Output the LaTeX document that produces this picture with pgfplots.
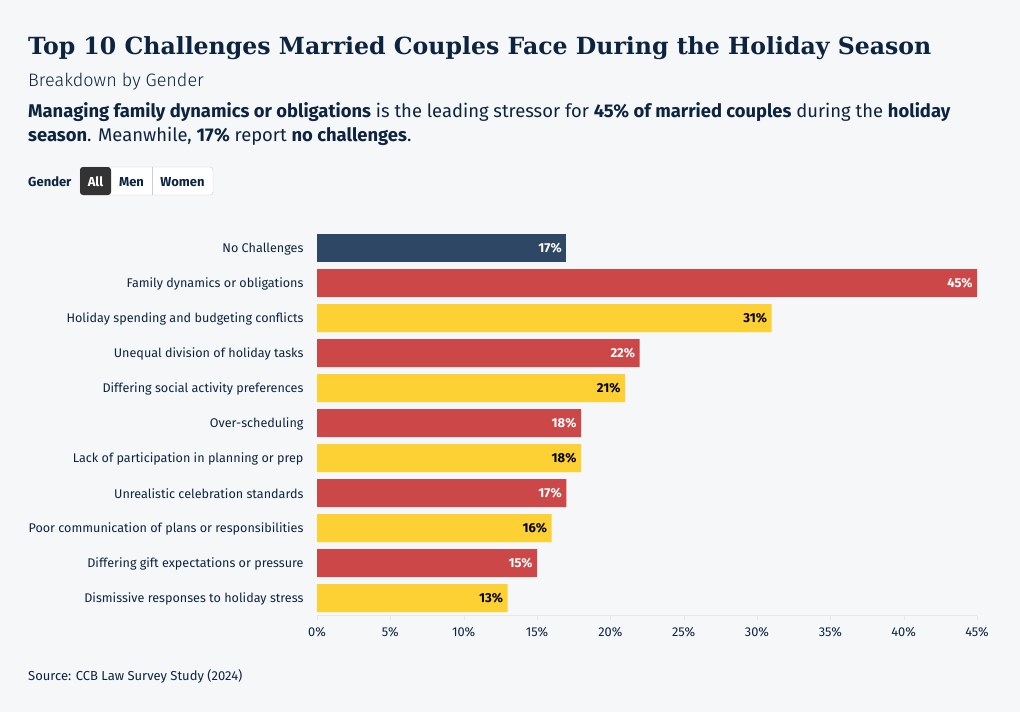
\documentclass[border=0pt]{standalone}
\usepackage{pgfplots}
\pgfplotsset{compat=1.18}
\usepackage{fontspec}
\setmainfont{Fira Sans}
\newfontfamily\titlefont{DejaVu Serif}
\definecolor{bgc}{HTML}{F5F7F9}
\definecolor{txt}{HTML}{0D2440}
\definecolor{navy}{HTML}{2E4765}
\definecolor{redc}{HTML}{CB4748}
\definecolor{yelc}{HTML}{FDD133}
\definecolor{gridc}{HTML}{E4E7EB}
\definecolor{btn}{HTML}{333333}
\definecolor{btnb}{HTML}{C9CED6}
\begin{document}
\begin{tikzpicture}[x=1pt,y=1pt]
\useasboundingbox (0,0) rectangle (1020,-712);
\fill[bgc] (0,0) rectangle (1020,-712);
\node[anchor=base west,inner sep=0,text=txt,font=\titlefont\bfseries\fontsize{23.6}{28}\selectfont] at (28,-54) {Top 10 Challenges Married Couples Face During the Holiday Season};
\node[anchor=base west,inner sep=0,text=txt,font=\fontsize{18}{20}\selectfont] at (28,-86) {\fontspec{Fira Sans Light}Breakdown by Gender};
\node[anchor=base west,inner sep=0,text=txt,font=\fontsize{18.4}{20}\selectfont] at (28,-117) {\textbf{Managing family dynamics or obligations} is the leading stressor for \textbf{45\% of married couples} during the \textbf{holiday}};
\node[anchor=base west,inner sep=0,text=txt,font=\fontsize{18.4}{20}\selectfont] at (28,-141) {\textbf{season}. Meanwhile, \textbf{17\%} report \textbf{no challenges}.};
\node[anchor=base west,inner sep=0,text=txt,font=\bfseries\fontsize{13}{15}\selectfont] at (28,-186) {Gender};
\draw[btnb,fill=white,rounded corners=3] (80,-167) rectangle (213,-195);
\fill[btn,rounded corners=3] (80,-167) rectangle (111,-195);
\draw[btnb] (152,-167) -- (152,-195);
\node[anchor=base,inner sep=0,text=white,font=\bfseries\fontsize{13}{15}\selectfont] at (95.5,-186) {All};
\node[anchor=base,inner sep=0,text=txt,font=\bfseries\fontsize{13}{15}\selectfont] at (131.5,-186) {Men};
\node[anchor=base,inner sep=0,text=txt,font=\bfseries\fontsize{13}{15}\selectfont] at (182.5,-186) {Women};
\node[anchor=base west,inner sep=0,text=txt,font=\fontsize{13}{15}\selectfont] at (28,-680) {Source: CCB Law Survey Study (2024)};
\begin{axis}[
  at={(317pt,-615.5pt)}, anchor=south west,
  scale only axis, width=660pt, height=385pt,
  xbar, bar width=28pt, bar shift=0pt,
  xmin=0, xmax=45, ymin=-0.5, ymax=10.5, y dir=reverse,
  ytick={0,...,10},
  yticklabels={No Challenges,Family dynamics or obligations,Holiday spending and budgeting conflicts,Unequal division of holiday tasks,Differing social activity preferences,Over-scheduling,Lack of participation in planning or prep,Unrealistic celebration standards,Poor communication of plans or responsibilities,Differing gift expectations or pressure,Dismissive responses to holiday stress},
  xtick={0,5,...,45},
  xticklabel={\pgfmathprintnumber{\tick}\%},
  /pgf/number format/assume math mode=true,
  axis x line*=bottom, axis y line*=left,
  x axis line style={draw=gridc,-},
  y axis line style={draw=none},
  xtick style={draw=gridc},
  ytick style={draw=none},
  xtick align=outside, major tick length=4pt,
  ticklabel style={text=txt,font=\fontsize{12.8}{15}\selectfont},
  xticklabel style={yshift=-4pt},
  yticklabel style={xshift=-6pt,yshift=-1pt,font=\fontsize{12.6}{15}\selectfont},
  nodes near coords={\pgfmathprintnumber{\pgfplotspointmeta}\%},
  every node near coord/.append style={anchor=east,xshift=-1pt,font=\bfseries\fontsize{13}{15}\selectfont},
  point meta=explicit symbolic,
  clip=false,
]
\addplot[fill=navy,draw=none,nodes near coords style={text=white}] coordinates {(17,0) [17]};
\addplot[fill=redc,draw=none,nodes near coords style={text=white}] coordinates {(45,1) [45] (22,3) [22] (18,5) [18] (17,7) [17] (15,9) [15]};
\addplot[fill=yelc,draw=none,nodes near coords style={text=black}] coordinates {(31,2) [31] (21,4) [21] (18,6) [18] (16,8) [16] (13,10) [13]};
\end{axis}
\end{tikzpicture}
\end{document}
